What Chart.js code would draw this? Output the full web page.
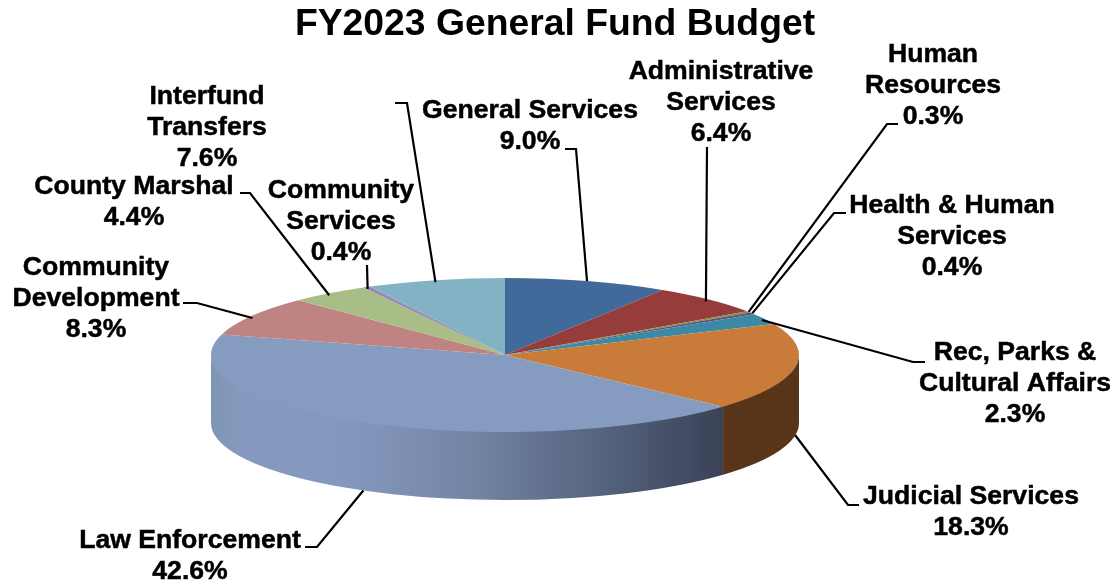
<!DOCTYPE html>
<html>
<head>
<meta charset="utf-8">
<title>FY2023 General Fund Budget</title>
<script src="https://cdn.jsdelivr.net/npm/chart.js@4/dist/chart.umd.min.js"></script>
<style>
  html, body { margin: 0; padding: 0; background: #fff; }
  canvas { display: block; }
</style>
</head>
<body>
<canvas id="budgetChart" width="1118" height="584"></canvas>
<script>
const categories = [
  'General Services', 'Administrative Services', 'Human Resources',
  'Health & Human Services', 'Rec, Parks & Cultural Affairs', 'Judicial Services',
  'Law Enforcement', 'Community Development', 'County Marshal',
  'Community Services', 'Interfund Transfers'
];
const shares = [9.0, 6.4, 0.3, 0.4, 2.3, 18.3, 42.6, 8.3, 4.4, 0.4, 7.6];
const sliceColors = [
  '#41699A', '#963C3A', '#7C9544', '#64507F', '#3B8AA5', '#C97C3A',
  '#869BC0', '#BF8482', '#A9BD86', '#9888B5', '#83B2C5'
];
const titleText = 'FY2023 General Fund Budget';
const labelLines = [
  ['General Services'], ['Administrative', 'Services'], ['Human', 'Resources'],
  ['Health & Human', 'Services'], ['Rec, Parks &', 'Cultural Affairs'], ['Judicial Services'],
  ['Law Enforcement'], ['Community', 'Development'], ['County Marshal'],
  ['Community', 'Services'], ['Interfund', 'Transfers']
];

// where the pie sits on the page, squashed to fake the 3D tilt
const pie = { x: 505, y: 355, rx: 294, ry: 77, depth: 68 };
const FONT = '"Liberation Sans", Arial, sans-serif';
const LINE_H = 30.7;

// label centre x, first line centre y, leader points working back from the label
const labelPlaces = [
  { x: 530, y: 111, leader: [[565, 149], [576, 149]] },
  { x: 721, y: 72, leader: [[707, 147]], shift: [-3, 2] },
  { x: 933, y: 55, leader: [[898, 124], [887, 124]] },
  { x: 952, y: 206, leader: [[846, 213], [834, 213]] },
  { x: 1015, y: 353, leader: [[925, 362], [913, 362]], shift: [-3, 1] },
  { x: 971, y: 497, leader: [[859, 505], [848, 505]], front: true },
  { x: 190, y: 541, leader: [[305, 547], [317, 547]], front: true },
  { x: 96, y: 268, leader: [[183, 303], [197, 303]], shift: [1, 2] },
  { x: 134, y: 187, leader: [[240, 193], [250, 193]], shift: [0, 2] },
  { x: 341, y: 191, leader: [[367, 265]], shift: [1, 2] },
  { x: 207, y: 97, leader: [[395, 103], [407, 103]], shift: [0, 2] }
];

function wallFill(ctx, index) {
  if (index === 5) return '#583518';
  const g = ctx.createLinearGradient(pie.x - pie.rx, 0, 723, 0);
  g.addColorStop(0, '#7F93B4');
  g.addColorStop(0.06, '#869ABF');
  g.addColorStop(0.27, '#8498BE');
  g.addColorStop(0.5, '#7485A6');
  g.addColorStop(0.75, '#576580');
  g.addColorStop(1, '#394256');
  return g;
}

const tiltPlugin = {
  id: 'tilt',
  beforeDatasetDraw(chart, args) {
    const ctx = chart.ctx;
    const arcs = args.meta.data;
    // side wall: only the part of each slice that faces the viewer
    arcs.forEach((arc, i) => {
      const a0 = Math.max(arc.startAngle, 0);
      const a1 = Math.min(arc.endAngle, Math.PI);
      if (a1 <= a0) return;
      ctx.beginPath();
      // top edge tucked under the pie so no white seam shows
      ctx.ellipse(pie.x, pie.y, pie.rx, pie.ry - 3, 0, a0, a1);
      ctx.ellipse(pie.x, pie.y + pie.depth, pie.rx, pie.ry, 0, a1, a0, true);
      ctx.closePath();
      ctx.fillStyle = wallFill(ctx, i);
      ctx.fill();
    });
    ctx.save();
    const r = arcs[0].outerRadius;
    ctx.translate(pie.x, pie.y);
    ctx.scale(pie.rx / r, pie.ry / r);
    ctx.translate(-arcs[0].x, -arcs[0].y);
  },
  afterDatasetDraw(chart) {
    chart.ctx.restore();
  },
  afterDraw(chart) {
    const ctx = chart.ctx;
    const arcs = chart.getDatasetMeta(0).data;
    ctx.save();
    ctx.strokeStyle = '#000';
    ctx.lineWidth = 2.2;
    labelPlaces.forEach((place, i) => {
      const mid = (arcs[i].startAngle + arcs[i].endAngle) / 2;
      const shift = place.shift || [0, 0];
      const ax = pie.x + pie.rx * Math.cos(mid) + shift[0];
      const ay = pie.y + pie.ry * Math.sin(mid) + shift[1] + (place.front ? pie.depth : 0);
      ctx.beginPath();
      place.leader.forEach((p, k) => k ? ctx.lineTo(p[0], p[1]) : ctx.moveTo(p[0], p[1]));
      ctx.lineTo(ax, ay);
      ctx.stroke();
    });
    ctx.fillStyle = '#000';
    ctx.lineWidth = 0.5;
    ctx.font = 'bold 26.6px ' + FONT;
    ctx.textAlign = 'center';
    ctx.textBaseline = 'middle';
    labelPlaces.forEach((place, i) => {
      const lines = labelLines[i].concat(shares[i].toFixed(1) + '%');
      lines.forEach((line, k) => {
        ctx.fillText(line, place.x, place.y + k * LINE_H);
        ctx.strokeText(line, place.x, place.y + k * LINE_H);
      });
    });
    ctx.restore();
  }
};

new Chart(document.getElementById('budgetChart'), {
  type: 'pie',
  data: {
    labels: categories,
    datasets: [{
      data: shares,
      backgroundColor: sliceColors,
      borderWidth: 0,
      clip: false
    }]
  },
  options: {
    responsive: false,
    animation: false,
    events: [],
    layout: { padding: { right: 8 } },
    plugins: {
      legend: { display: false },
      tooltip: { enabled: false },
      title: {
        display: true,
        text: titleText,
        color: '#000',
        font: { family: FONT, size: 37.3, weight: 'bold' },
        padding: { top: 2, bottom: 4 }
      }
    }
  },
  plugins: [tiltPlugin]
});
</script>
</body>
</html>
